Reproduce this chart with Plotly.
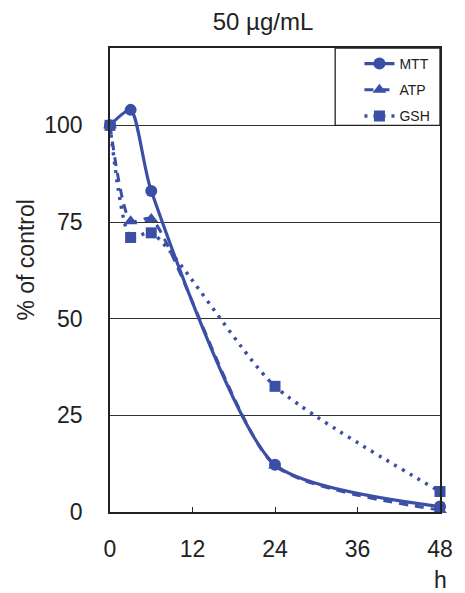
import plotly.graph_objects as go

hours = [0, 3, 6, 24, 48]
mtt = [100, 104, 83, 12.2, 1.4]
atp = [100, 75.2, 75.8, 12, 0.5]
gsh = [100, 71, 72.2, 32.5, 5.3]
x_ticks = [0, 12, 24, 36, 48]
y_ticks = [0, 25, 50, 75, 100]

blue = "#3b4fa6"
ink = "#222"
font_family = "Liberation Sans, Arial, sans-serif"
smooth = 0.65

fig = go.Figure()
fig.add_trace(go.Scatter(
    x=hours, y=mtt, name="MTT", mode="lines+markers", legendgroup="a",
    line=dict(color=blue, width=3.2, shape="spline", smoothing=smooth),
    marker=dict(symbol="circle", size=12, color=blue), cliponaxis=False))
fig.add_trace(go.Scatter(
    x=hours, y=atp, name="ATP", mode="lines+markers", legendgroup="b",
    line=dict(color=blue, width=3, dash="9px,7px", shape="spline", smoothing=smooth),
    marker=dict(symbol="triangle-up", size=12, color=blue), cliponaxis=False))
fig.add_trace(go.Scatter(
    x=hours, y=gsh, name="GSH", mode="lines+markers", legendgroup="c",
    line=dict(color=blue, width=3.5, dash="3px,6px", shape="spline", smoothing=smooth),
    marker=dict(symbol="square", size=11, color=blue), cliponaxis=False))

fig.update_layout(
    width=465, height=593,
    margin=dict(l=110, r=15, t=48, b=81),
    paper_bgcolor="white", plot_bgcolor="white",
    font=dict(family=font_family, size=23, color=ink),
    title=dict(text="50 µg/mL", x=263 / 465, xanchor="center", y=1 - 22 / 593,
               yanchor="middle", font=dict(size=24, color=ink)),
    showlegend=True,
    legend=dict(x=(367 - 110) / 340, y=1, xanchor="left", yanchor="top",
                bgcolor="rgba(0,0,0,0)", borderwidth=0,
                font=dict(size=14, color=ink), tracegroupgap=5),
    xaxis=dict(range=[0, 48], tickvals=x_ticks, ticktext=[str(v) for v in x_ticks],
               showgrid=False, zeroline=False, showline=True, linecolor=ink,
               linewidth=1.5, mirror=True, ticks="inside", ticklen=5,
               tickcolor=ink, tickwidth=1.2, ticklabelstandoff=16,
               tickfont=dict(size=23)),
    yaxis=dict(range=[0, 120], tickvals=y_ticks, ticktext=[str(v) for v in y_ticks],
               showgrid=True, gridcolor="#333", gridwidth=1.2, zeroline=False,
               showline=True, linecolor=ink, linewidth=1.5, mirror=True,
               ticks="", ticklabelstandoff=21, tickfont=dict(size=23)),
)
# legend frame
fig.add_shape(type="rect", xref="paper", yref="y",
              x0=(342 - 110) / 340, x1=1, y0=100, y1=120,
              line=dict(color=ink, width=1.3), fillcolor="white", layer="above")
# y axis title
fig.add_annotation(text="% of control", textangle=-90, xref="paper", yref="paper",
                   x=(23 - 110) / 340, y=(512 - 260) / 464, xanchor="center",
                   yanchor="middle", showarrow=False, font=dict(size=23, color=ink))
# x axis unit
fig.add_annotation(text="h", x=48, xref="x", y=(512 - 580) / 464, yref="paper",
                   xanchor="center", yanchor="middle", showarrow=False,
                   font=dict(size=23, color=ink))

fig.write_html("out.html")
